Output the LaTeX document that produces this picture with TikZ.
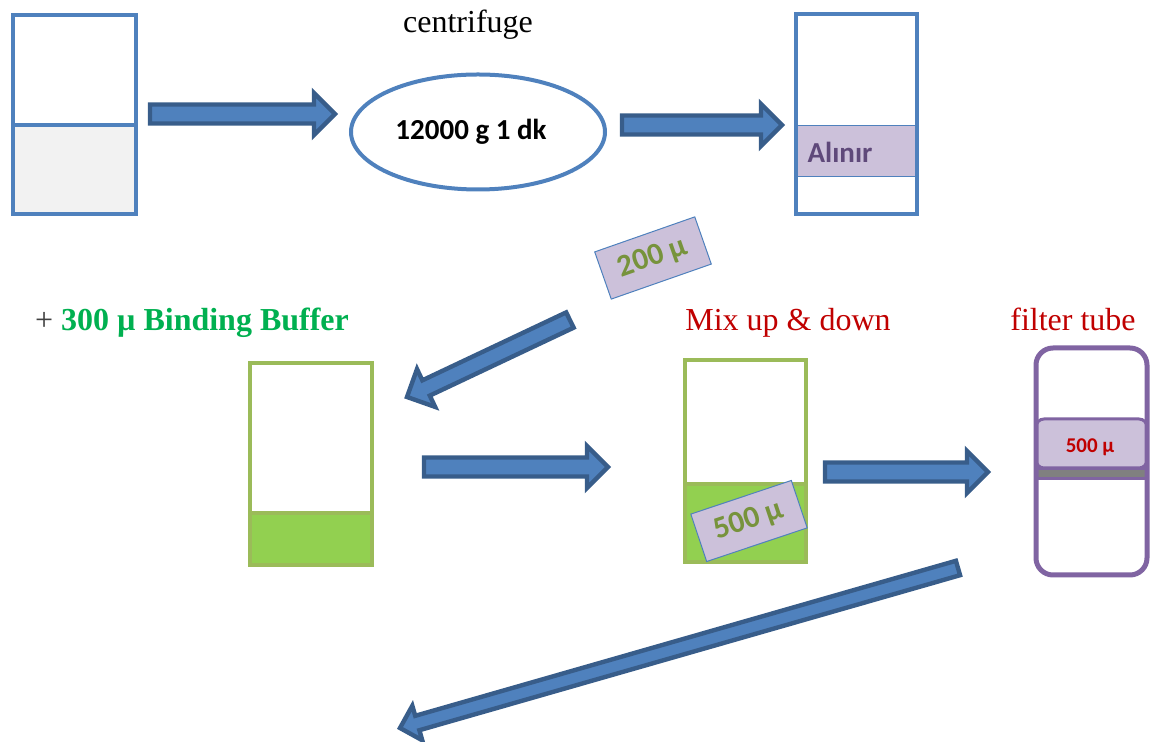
\documentclass[tikz,border=0pt]{standalone}
\usepackage{fontspec}
\setmainfont{Liberation Serif}
\newfontfamily\calibri{Carlito}
\usetikzlibrary{calc,shapes.geometric}

\definecolor{tubeblue}{HTML}{4F81BD}
\definecolor{arrowline}{HTML}{385D8A}
\definecolor{tubegreen}{HTML}{9BBB59}
\definecolor{buffergreen}{HTML}{92D050}
\definecolor{lilac}{HTML}{CCC1DA}
\definecolor{filterpurple}{HTML}{8064A2}
\definecolor{labelgreen}{HTML}{77933C}
\definecolor{textgreen}{HTML}{00B050}
\definecolor{textred}{HTML}{C00000}
\definecolor{darkpurple}{HTML}{5F497A}

% block arrow: start, end, shaft half width, head half width
\newcommand{\blockarrow}[4]{%
  \draw[blockarr] let \p1=($(#2)-(#1)$), \n1={atan2(\y1,\x1)}, \n2={veclen(\x1,\y1)} in
    ($(#1)+(\n1+90:#3)$) -- ++(\n1:\n2-#4) -- ++(\n1+90:#4-#3) -- (#2)
    -- ($(#2)+(\n1+180:#4)+(\n1-90:#4)$) -- ++(\n1+90:#4-#3) -- ++(\n1+180:\n2-#4) -- cycle;}

\begin{document}
\begin{tikzpicture}[x=0.5pt,y=-0.5pt,
  blockarr/.style={fill=tubeblue, draw=arrowline, line width=2.2pt, line join=miter},
  tube/.style={draw=#1, line width=2pt, inner sep=0pt, outer sep=0pt},
  layer/.style={fill=#1, line width=2pt},
  lilacbox/.style={fill=lilac, draw=tubeblue, line width=0.5pt, inner sep=0pt,
    minimum width=53pt, minimum height=25pt, text=labelgreen,
    font=\calibri\bfseries\fontsize{15.5}{17}\selectfont},
  caption/.style={anchor=base, font=\fontsize{16}{19}\selectfont}]
\useasboundingbox (0,0) rectangle (1153,742);

% sample tube
\filldraw[layer=black!5, draw=tubeblue] (13,125) rectangle (136,214);
\node[tube=tubeblue, minimum width=61.5pt, minimum height=99.5pt] (sample) at (74.5,114.5) {};

% centrifuge
\node[caption] (centlabel) at (468,33) {centrifuge};
\node[ellipse, draw=tubeblue, line width=2pt, inner sep=0pt,
  minimum width=127pt, minimum height=57.5pt] (spin) at (478,132) {};
\node[anchor=base, font=\calibri\bfseries\fontsize{14.5}{17}\selectfont] (spintext) at (471,140) {12000 g 1 dk};

% supernatant tube
\node[tube=tubeblue, minimum width=60.5pt, minimum height=100pt] (super) at (856.5,114) {};
\filldraw[fill=lilac, draw=tubeblue, line width=0.5pt] (796,126) rectangle (917,177);
\draw[tubeblue, line width=2pt] (super.north west) rectangle (super.south east);
\node[anchor=base, text=darkpurple, font=\calibri\bfseries\fontsize{14.5}{17}\selectfont] (take) at (840,163) {Alınır};

\node[lilacbox, rotate=19.3] (twohundred) at (653,258) {200 µ};

% captions of the second row
\node[caption] (buffer) at (192,331) {\textcolor{black!75}{+} \textcolor{textgreen}{\bfseries 300 µ Binding Buffer}};
\node[caption, text=textred] (mixlabel) at (788,331) {Mix up \& down};
\node[caption, text=textred] (filterlabel) at (1073,331) {filter tube};

% binding buffer tube
\filldraw[layer=buffergreen, draw=tubegreen] (250,513) rectangle (372,565);
\node[tube=tubegreen, minimum width=61pt, minimum height=101pt] (bind) at (311,464) {};

% mixed tube
\filldraw[layer=buffergreen, draw=tubegreen] (685,484) rectangle (806,562);
\node[tube=tubegreen, minimum width=60.5pt, minimum height=101pt] (mix) at (745.5,461) {};
\node[lilacbox, rotate=18.5] (fivehundred) at (749,521) {500 µ};

% filter tube
\filldraw[fill=gray, draw=filterpurple, line width=1.5pt] (1036,469) rectangle (1147,479);
\filldraw[fill=lilac, draw=filterpurple, line width=1.5pt, rounded corners=4pt] (1036,419) rectangle (1147,468);
\node[tube=filterpurple, line width=2.5pt, rounded corners=8.5pt,
  minimum width=55.5pt, minimum height=113.5pt] (filter) at (1091.5,461.5) {};
\node[anchor=base, text=textred, font=\calibri\bfseries\fontsize{10.5}{12}\selectfont] (filtertext) at (1090,453) {500 µ};

% arrows
\coordinate (a1s) at (150,114);  \coordinate (a1e) at (335,114);
\coordinate (a2s) at (622,125);  \coordinate (a2e) at (782,125);
\coordinate (a3s) at (570,320);  \coordinate (a3e) at (407,397);
\coordinate (a4s) at (424,467);  \coordinate (a4e) at (608,467);
\coordinate (a5s) at (825,472);  \coordinate (a5e) at (988,472);
\coordinate (a6s) at (958,568);  \coordinate (a6e) at (400,728);
\blockarrow{a1s}{a1e}{4.75pt}{10.5pt}
\blockarrow{a2s}{a2e}{4.75pt}{10.5pt}
\blockarrow{a3s}{a3e}{4.25pt}{10.5pt}
\blockarrow{a4s}{a4e}{4.75pt}{10.5pt}
\blockarrow{a5s}{a5e}{4.75pt}{10.5pt}
\blockarrow{a6s}{a6e}{3.75pt}{9pt}
\end{tikzpicture}
\end{document}
